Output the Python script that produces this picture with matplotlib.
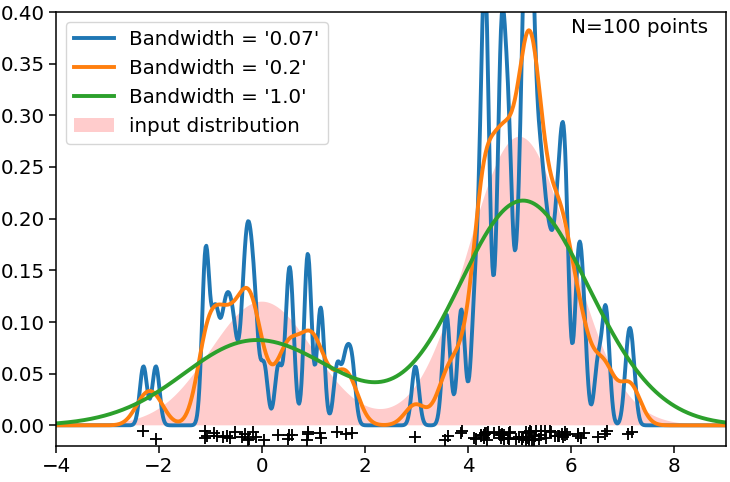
import numpy as np
import matplotlib
matplotlib.use('Agg')
import matplotlib.pyplot as plt

points_x = [1.624, -0.612, -0.528, -1.073, 0.865, -2.302, 1.745, -0.761, 0.319, -0.249,
            1.462, -2.060, -0.322, -0.384, 1.134, -1.100, -0.172, -0.878, 0.042, 0.583,
            -1.101, 1.145, 0.902, 0.502, 0.901, -0.684, -0.123, -0.936, -0.268, 0.530,
            4.308, 4.603, 4.313, 4.155, 4.329, 4.987, 3.883, 5.234, 6.660, 5.742,
            4.808, 4.112, 4.253, 6.692, 5.051, 4.363, 5.191, 7.100, 5.120, 5.617,
            5.300, 4.648, 3.857, 4.651, 4.791, 5.587, 5.839, 5.931, 5.286, 5.885,
            4.246, 6.253, 5.513, 4.702, 5.489, 4.924, 6.132, 6.520, 7.186, 3.604,
            3.556, 4.496, 5.160, 5.876, 5.316, 2.978, 4.694, 5.828, 5.230, 5.762,
            4.778, 4.799, 5.187, 5.410, 5.198, 5.119, 4.329, 5.378, 5.122, 6.129,
            6.199, 5.185, 4.625, 4.361, 5.423, 5.077, 4.656, 5.044, 4.380, 5.698]
points_y = [-0.008, -0.012, -0.006, -0.010, -0.014, -0.005, -0.007, -0.011, -0.009, -0.013,
            -0.006, -0.013, -0.008, -0.011, -0.007, -0.012, -0.006, -0.010, -0.014, -0.009,
            -0.005, -0.012, -0.008, -0.013, -0.006, -0.010, -0.011, -0.007, -0.014, -0.009,
            -0.012, -0.006, -0.009, -0.013, -0.007, -0.011, -0.005, -0.014, -0.008, -0.010,
            -0.006, -0.012, -0.009, -0.005, -0.013, -0.007, -0.011, -0.008, -0.014, -0.006,
            -0.010, -0.012, -0.007, -0.009, -0.013, -0.005, -0.011, -0.008, -0.014, -0.006,
            -0.010, -0.007, -0.012, -0.009, -0.005, -0.013, -0.008, -0.011, -0.006, -0.010,
            -0.014, -0.007, -0.012, -0.009, -0.005, -0.011, -0.013, -0.008, -0.006, -0.010,
            -0.012, -0.007, -0.014, -0.009, -0.005, -0.011, -0.008, -0.013, -0.006, -0.010,
            -0.012, -0.007, -0.009, -0.014, -0.005, -0.011, -0.008, -0.013, -0.006, -0.010]

bandwidths = [0.07, 0.2, 1.0]
line_colors = ['tab:blue', 'tab:orange', 'tab:green']

# input distribution: mixture of two gaussians
mix_weights = [0.3, 0.7]
mix_means = [0.0, 5.0]
mix_sigma = [1.0, 1.0]

N = len(points_x)
X = np.array(points_x)
x_plot = np.linspace(-5, 10, 1000)

def gauss(x, mu, s):
    return np.exp(-0.5 * ((x - mu) / s) ** 2) / (s * np.sqrt(2 * np.pi))

true_dens = sum(w * gauss(x_plot, m, s) for w, m, s in zip(mix_weights, mix_means, mix_sigma))

plt.rcParams['font.size'] = 14.3
fig = plt.figure(figsize=(7.3, 4.82), dpi=100)
ax = fig.add_axes([56 / 730, 36 / 482, 669.5 / 730, 434 / 482])

fill = ax.fill(x_plot, true_dens, fc='red', alpha=0.2, label='input distribution')[0]

handles = []
for bw, c in zip(bandwidths, line_colors):
    dens = gauss(x_plot[:, None], X[None, :], bw).mean(axis=1)
    ln, = ax.plot(x_plot, dens, color=c, lw=2.8, linestyle='-',
                  label="Bandwidth = '{0}'".format(bw))
    handles.append(ln)
handles.append(fill)

ax.text(6, 0.38, 'N={0} points'.format(N))
ax.legend(handles=handles, loc='upper left')
ax.plot(points_x, points_y, '+k', markersize=8.1, mew=1.35)

ax.set_xlim(-4, 9)
ax.set_ylim(-0.02, 0.4)
ax.tick_params(length=4.7, width=1.1)
for sp in ax.spines.values():
    sp.set_linewidth(1.1)

fig.savefig('out.png', dpi=100)
